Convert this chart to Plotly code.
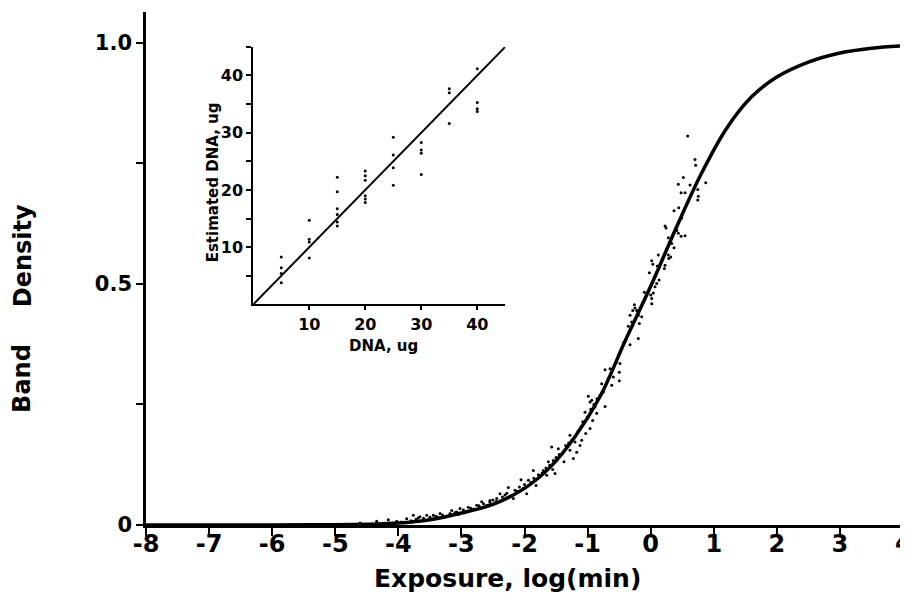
import plotly.graph_objects as go

# ---- main chart data ----
x_ticks = [-8, -7, -6, -5, -4, -3, -2, -1, 0, 1, 2, 3, 4]
x_tick_labels = ["-8", "-7", "-6", "-5", "-4", "-3", "-2", "-1", "0", "1", "2", "3", ""]
x_last_label = "4"
y_ticks = [0, 0.25, 0.5, 0.75, 1.0]
y_tick_labels = ["0", "", "0.5", "", "1.0"]

curve_x = [-8, -6, -5.2, -4.5, -4.0, -3.5, -3.0, -2.5, -2.0, -1.6, -1.2, -0.8, -0.4,
           0.0, 0.4, 0.8, 1.2, 1.6, 2.0, 2.5, 3.0, 3.5, 4.0]
curve_y = [0.0, 0.0, 0.0005, 0.0015, 0.004, 0.011, 0.025, 0.043, 0.076, 0.119, 0.183,
           0.267, 0.383, 0.495, 0.615, 0.728, 0.822, 0.888, 0.929, 0.960, 0.979, 0.989, 0.994]

pts_x = [0.587, 0.703, 0.714, 0.518, 0.439, 0.624, 0.873, 0.482, 0.545, 0.746, 0.756, 0.746,
         0.445, 0.370, 0.493, 0.228, 0.244, 0.413, 0.439, 0.482, 0.545, 0.280, 0.334, 0.370,
         0.121, 0.280, 0.318, 0.286, 0.017, 0.033, 0.228, 0.106, 0.217, -0.021, 0.133, 0.096,
         0.069, 0.042, 0.001, 0.017, 0.017, -0.100, -0.259, -0.248, -0.284, -0.221, -0.327,
         -0.196, -0.142, -0.300, -0.180, -0.354, -0.196, -0.433, -0.327, -0.539, -0.486,
         -0.723, -0.644, -0.497, -0.592, -0.671, -0.497, -0.776, -0.617, -0.750, -0.988,
         -0.803, -0.961, -0.723, -0.882, -1.041, -0.856,
         -0.934, -1.004, -0.919, -1.077, -0.961, -1.030, -1.093, -1.279, -1.199, -1.120,
         -1.347, -1.279, -1.172, -1.569, -1.464, -1.394, -1.226, -1.543, -1.374, -1.622,
         -1.860, -1.701, -1.553, -1.516, -1.648, -1.754, -2.055, -1.939, -1.817, -2.257,
         -2.151, -2.019, -1.965, -2.388, -2.309, -2.440, -2.177, -2.547, -2.678, -2.758,
         -2.599, -2.890, -3.022, -3.154, -3.075, -3.339, -3.445, -3.550, -3.656, -3.762,
         -3.867, -4.343, -4.607, -4.925, -4.159, -4.026, -3.683, -5.24,
         -3.95, -3.80, -3.72, -3.60, -3.50, -3.40, -3.30, -3.25, -3.18, -3.10, -3.05,
         -2.97, -2.93, -2.85, -2.80, -2.72, -2.65, -2.62, -2.55, -2.50, -2.45, -2.35,
         -2.28, -2.22, -2.12, -2.08, -2.00, -1.90, -1.85, -1.78, -1.72, -1.66, -1.60,
         -1.50, -1.45, -1.30, -1.25, -1.15, -1.10, -0.95, -0.90, -0.85]
pts_y = [0.807, 0.758, 0.746, 0.721, 0.707, 0.705, 0.710, 0.689, 0.689, 0.696, 0.682, 0.674,
         0.658, 0.652, 0.637, 0.620, 0.616, 0.611, 0.605, 0.599, 0.600, 0.596, 0.584, 0.575,
         0.560, 0.560, 0.556, 0.553, 0.548, 0.541, 0.539, 0.537, 0.532, 0.523, 0.508, 0.501,
         0.494, 0.481, 0.477, 0.470, 0.459, 0.483, 0.457, 0.450, 0.445, 0.445, 0.435,
         0.435, 0.432, 0.421, 0.418, 0.412, 0.387, 0.378, 0.374, 0.338, 0.335,
         0.322, 0.324, 0.317, 0.307, 0.304, 0.299, 0.293, 0.290, 0.276, 0.267,
         0.269, 0.255, 0.246, 0.245, 0.234, 0.232,
         0.259, 0.224, 0.217, 0.214, 0.200, 0.190, 0.176, 0.186, 0.172, 0.165,
         0.165, 0.155, 0.151, 0.162, 0.158, 0.149, 0.138, 0.134, 0.131, 0.131,
         0.113, 0.113, 0.115, 0.107, 0.103, 0.100, 0.094, 0.093, 0.082, 0.078,
         0.072, 0.076, 0.065, 0.065, 0.062, 0.055, 0.055, 0.051, 0.048, 0.041,
         0.041, 0.037, 0.034, 0.030, 0.027, 0.024, 0.020, 0.020, 0.017, 0.020,
         0.013, 0.008, 0.004, 0.001, 0.011, 0.008, 0.015, 0.0005,
         0.006, 0.009, 0.012, 0.014, 0.016, 0.018, 0.021, 0.017, 0.024, 0.026, 0.022,
         0.031, 0.028, 0.035, 0.033, 0.040, 0.044, 0.038, 0.047, 0.052, 0.049, 0.058,
         0.066, 0.060, 0.070, 0.079, 0.084, 0.088, 0.097, 0.104, 0.108, 0.118, 0.124,
         0.140, 0.146, 0.170, 0.176, 0.195, 0.205, 0.240, 0.250, 0.262]

# ---- inset data ----
inset_line_x = [0, 45]
inset_line_y = [0, 45]
inset_x = [5, 5, 5, 5,
           10, 10, 10, 10,
           15, 15, 15, 15, 15, 15,
           20, 20, 20, 20, 20, 20,
           25, 25, 25, 25,
           30, 30, 30, 30,
           35, 35, 35,
           40, 40, 40, 40, 40]
inset_y = [8.3, 6.4, 5.4, 3.8,
           14.7, 11.4, 10.9, 8.1,
           22.2, 19.7, 16.7, 15.7, 14.4, 13.7,
           23.3, 22.5, 21.7, 19.0, 18.4, 17.8,
           29.2, 26.1, 23.9, 20.8,
           28.3, 27.0, 26.4, 22.7,
           37.7, 37.0, 31.6,
           45.3, 41.2, 35.3, 34.2, 33.7]
inset_y_ticks = [5, 10, 15, 20, 25, 30, 35, 40, 45]
inset_y_tick_labels = ["", "10", "", "20", "", "30", "", "40", ""]
inset_x_ticks = [10, 20, 30, 40]
inset_x_tick_labels = ["10", "20", "30", "40"]

FONT = "DejaVu Sans"

fig = go.Figure()
fig.add_trace(go.Scatter(x=pts_x, y=pts_y, mode="markers",
                         marker=dict(color="black", size=3), cliponaxis=False,
                         showlegend=False))
fig.add_trace(go.Scatter(x=curve_x, y=curve_y, mode="lines",
                         line=dict(color="black", width=3.5, shape="spline"),
                         showlegend=False))
fig.add_trace(go.Scatter(x=inset_line_x, y=inset_line_y, mode="lines",
                         line=dict(color="black", width=2),
                         xaxis="x2", yaxis="y2", showlegend=False))
fig.add_trace(go.Scatter(x=inset_x, y=inset_y, mode="markers",
                         marker=dict(color="black", size=3), cliponaxis=False,
                         xaxis="x2", yaxis="y2", showlegend=False))

axis_common = dict(showgrid=False, zeroline=False, showline=True, linecolor="black",
                   ticks="outside", tickcolor="black", automargin=False)

# page body has an 8px offset, so the figure is 900x585 and shifted by 8px
fig.update_layout(
    width=900, height=585,
    margin=dict(l=138, r=5, t=4, b=68, autoexpand=False),
    paper_bgcolor="white", plot_bgcolor="white",
    xaxis=dict(**axis_common, domain=[0, 1], range=[-8, 4], tickvals=x_ticks,
               ticktext=x_tick_labels, linewidth=2.5, tickwidth=2, ticklen=8,
               ticklabelstandoff=-13,
               tickfont=dict(family=FONT, size=24, color="black", weight="bold"),
               anchor="y"),
    yaxis=dict(**axis_common, domain=[0, 1], range=[0, 1.064], tickvals=y_ticks,
               ticktext=y_tick_labels, linewidth=2.5, tickwidth=2, ticklen=7,
               tickfont=dict(family=FONT, size=21, color="black", weight="bold"),
               anchor="x"),
    xaxis2=dict(**axis_common, domain=[0.1417, 0.4746], range=[0, 45],
                tickvals=inset_x_ticks, ticktext=inset_x_tick_labels,
                linewidth=2, tickwidth=1.5, ticklen=4, anchor="y2",
                tickfont=dict(family=FONT, size=16, color="black", weight="bold")),
    yaxis2=dict(**axis_common, domain=[0.430, 0.932], range=[0, 45],
                tickvals=inset_y_ticks, ticktext=inset_y_tick_labels,
                linewidth=2, tickwidth=1.5, ticklen=5, anchor="x2",
                tickfont=dict(family=FONT, size=16, color="black", weight="bold")),
    annotations=[
        dict(text=x_last_label, xref="x", yref="paper", x=x_ticks[-1], y=-0.0357,
             showarrow=False, xanchor="center", yanchor="middle",
             font=dict(family=FONT, size=24, color="black", weight="bold")),
        dict(text="Exposure, log(min)", xref="paper", yref="paper", x=0.478, y=-0.104,
             showarrow=False, xanchor="center", yanchor="middle",
             font=dict(family=FONT, size=25, color="black", weight="bold")),
        dict(text="Band", xref="paper", yref="paper", x=-0.163, y=0.286, textangle=-90,
             showarrow=False, xanchor="center", yanchor="middle",
             font=dict(family=FONT, size=24, color="black", weight="bold")),
        dict(text="Density", xref="paper", yref="paper", x=-0.163, y=0.525, textangle=-90,
             showarrow=False, xanchor="center", yanchor="middle",
             font=dict(family=FONT, size=24, color="black", weight="bold")),
        dict(text="Estimated DNA, ug", xref="paper", yref="paper",
             x=(213 - 146) / 757, y=(524.7 - 182) / 513, textangle=-90,
             showarrow=False, xanchor="center", yanchor="middle",
             font=dict(family=FONT, size=15, color="black", weight="bold")),
        dict(text="DNA, ug", xref="paper", yref="paper",
             x=(383 - 146) / 757, y=(524.7 - 346) / 513,
             showarrow=False, xanchor="center", yanchor="middle",
             font=dict(family=FONT, size=15, color="black", weight="bold")),
    ],
)

fig.write_html("out.html")
